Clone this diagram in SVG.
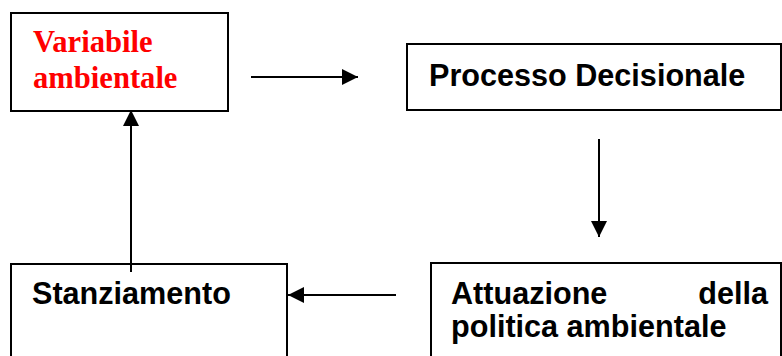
<svg xmlns="http://www.w3.org/2000/svg" width="782" height="356" viewBox="0 0 782 356">
<defs>
<style>
.box{fill:#fff;stroke:#000;stroke-width:2}
.t{font-family:"Liberation Sans",Arial,sans-serif;font-weight:bold;font-size:30.6px;fill:#000}
.r{font-family:"Liberation Serif","Times New Roman",serif;font-weight:bold;font-size:30.6px;fill:#ff0000}
.c{stroke:#000;stroke-width:2;fill:none}
</style>
<marker id="ah" viewBox="0 0 16 16" refX="16" refY="8" markerWidth="16" markerHeight="16" markerUnits="userSpaceOnUse" orient="auto">
<path d="M0,0 L16,8 L0,16 Z" fill="#000"/>
</marker>
</defs>
<rect width="782" height="356" fill="#fff"/>
<g id="variabile">
<rect class="box" x="11" y="13" width="217" height="98"/>
<text class="r" x="33" y="52">Variabile</text>
<text class="r" x="33" y="88">ambientale</text>
</g>
<g id="processo">
<rect class="box" x="407" y="44" width="374" height="66"/>
<text class="t" x="429" y="86">Processo Decisionale</text>
</g>
<g id="stanziamento">
<rect class="box" x="11" y="264" width="276" height="100"/>
<text class="t" x="32" y="304">Stanziamento</text>
</g>
<g id="attuazione">
<rect class="box" x="431" y="263" width="350" height="100"/>
<text class="t" x="451" y="304">Attuazione</text>
<text class="t" x="768" y="304" text-anchor="end">della</text>
<text class="t" x="451" y="337">politica ambientale</text>
</g>
<g id="connectors">
<line class="c" x1="251" y1="77" x2="358" y2="77" marker-end="url(#ah)"/>
<line class="c" x1="599" y1="139" x2="599" y2="237" marker-end="url(#ah)"/>
<line class="c" x1="396" y1="295" x2="288" y2="295" marker-end="url(#ah)"/>
<line class="c" x1="131" y1="272" x2="131" y2="110" marker-end="url(#ah)"/>
</g>
</svg>
